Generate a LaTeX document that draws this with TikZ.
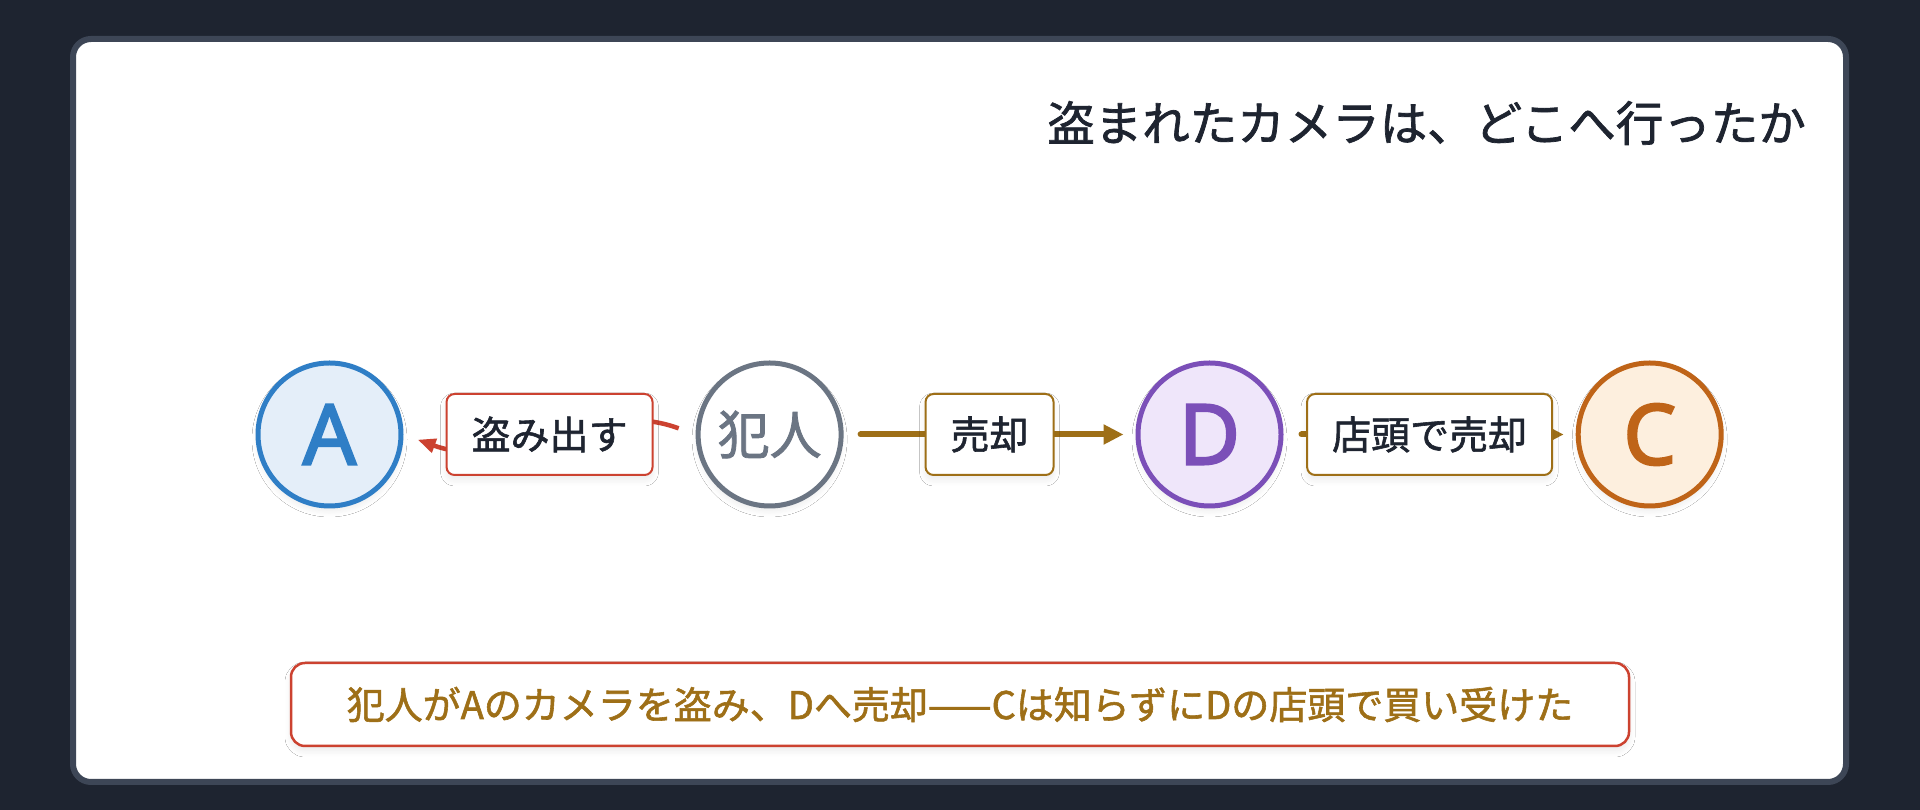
\documentclass[tikz,border=0pt]{standalone}
\usepackage{fontspec}
\setmainfont{Noto Sans CJK JP}[FakeBold=1.5]
\newfontfamily\letterfont{Noto Sans}[FakeBold=2.5]
\usetikzlibrary{arrows.meta,shadows.blur}

\definecolor{bgdark}{HTML}{1E2430}
\definecolor{cardline}{HTML}{3D4656}
\definecolor{inkdark}{HTML}{1E2430}
\definecolor{thiefred}{HTML}{CC4230}
\definecolor{salegold}{HTML}{9E6F17}
\definecolor{ablue}{HTML}{2F7EC6}
\definecolor{ablueFill}{HTML}{E4EEF9}
\definecolor{hgray}{HTML}{6B7583}
\definecolor{dpurple}{HTML}{7B4FB8}
\definecolor{dpurpleFill}{HTML}{EFE6FA}
\definecolor{corange}{HTML}{BF6418}
\definecolor{corangeFill}{HTML}{FDEFDE}

\begin{document}
\begin{tikzpicture}[x=1pt,y=1pt]
		\tikzset{softshadow/.style = {blur shadow={shadow xshift=0pt, shadow yshift=-5pt, shadow blur radius=6pt, shadow blur steps=8, shadow opacity=8}}}
		\tikzset{person/.style = {shape=circle, draw, line width=5pt, minimum size=143pt, inner sep=0pt, softshadow, font=\letterfont\fontsize{84}{84}\selectfont}}
		\tikzset{actlabel/.style = {shape=rectangle, draw, fill=white, line width=2pt, rounded corners=8pt, minimum height=81pt, inner xsep=25pt, inner ysep=0pt, text=inkdark, softshadow, font=\fontsize{39}{39}\selectfont}}
		\tikzset{stealarrow/.style = {draw=thiefred, line width=4.5pt, -{Triangle[length=18pt,width=14pt]}}}
		\tikzset{salearrow/.style = {draw=salegold, line width=6pt, line cap=round, -{Triangle[length=20pt,width=19pt]}}}

		\useasboundingbox (0,0) rectangle (1920,810);
		\fill[bgdark] (0,0) rectangle (1920,810);
		\draw[cardline, fill=white, line width=6pt, rounded corners=18pt] (73,28) rectangle (1846,771);

		\node[anchor=east, inner sep=0pt, text=inkdark, font=\fontsize{47.5}{50}\selectfont] (title) at (1806,687) {盗まれたカメラは、どこへ行ったか};

		\node[person, draw=ablue, fill=ablueFill, text=ablue] (A) at (329.5,375.5) {A};
		\node[person, draw=hgray, fill=white, text=hgray, font=\fontsize{52}{52}\selectfont] (hannin) at (769.6,375.5) {犯人};
		\node[person, draw=dpurple, fill=dpurpleFill, text=dpurple] (D) at (1209.5,375.5) {D};
		\node[person, draw=corange, fill=corangeFill, text=corange] (C) at (1649.7,375.5) {C};

		\draw[stealarrow, shorten <=18pt, shorten >=15pt] (hannin.west) to[out=160, in=-20]
			node[actlabel, draw=thiefred] (steal) {盗み出す} (A.east);
		\draw[salearrow, shorten <=17pt, shorten >=12pt] (hannin) --
			node[actlabel, draw=salegold] (sell) {売却} (D);
		\draw[salearrow, shorten <=18pt, shorten >=12pt] (D) --
			node[actlabel, draw=salegold] (shopsell) {店頭で売却} (C);

		\node[shape=rectangle, draw=thiefred, fill=white, line width=2.5pt, rounded corners=14pt, minimum width=1338pt, minimum height=83pt, inner sep=0pt, text=salegold, softshadow, font=\fontsize{38}{38}\selectfont] (summary) at (960,105.5) {犯人がAのカメラを盗み、Dへ売却——Cは知らずにDの店頭で買い受けた};

	\end{tikzpicture}
\end{document}
